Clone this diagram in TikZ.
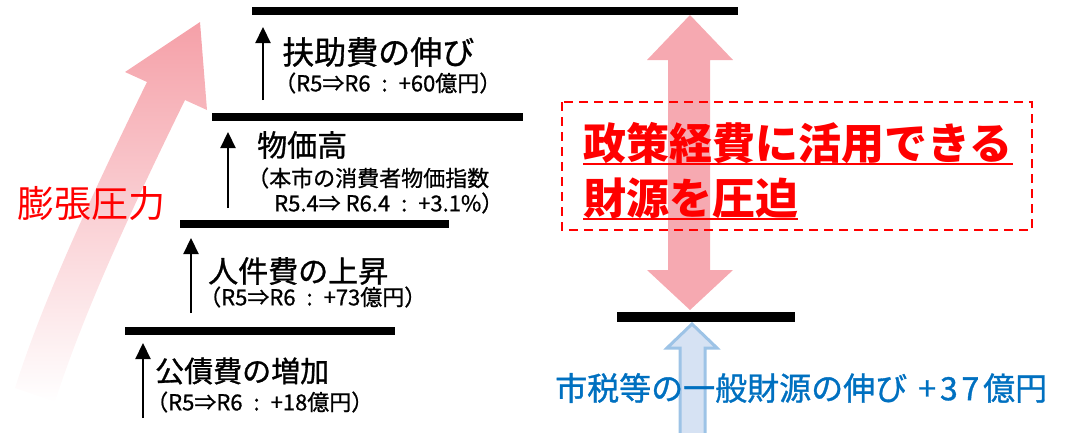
\documentclass[tikz,border=0pt]{standalone}
\usepackage{fontspec}
\setmainfont{Noto Sans CJK JP}
\usetikzlibrary{arrows.meta}
\definecolor{jred}{RGB}{255,0,0}
\definecolor{jblue}{RGB}{0,112,192}
\definecolor{apink}{RGB}{245,160,168}
\definecolor{bfill}{RGB}{214,226,243}
\definecolor{bline}{RGB}{157,195,230}
\newcommand{\cs}{\hspace{0.5em}:\hspace{0.5em}}
\begin{document}
\begin{tikzpicture}[x=1pt,y=-1pt,
  bar/.style={line width=8pt},
  uparrow/.style={line width=2.2pt,-{Triangle[length=16pt,width=15pt]}},
  lab/.style={anchor=west,inner sep=0pt},
  big/.style={lab,font=\fontsize{#1}{#1}\selectfont\addfontfeature{FakeBold=1}},
  sub/.style={lab,font=\fontsize{22}{26}\selectfont\addfontfeature{FakeBold=0.8}},
  uline/.style={jred,line width=2pt}]
\useasboundingbox (0,0) rectangle (1084,432);
% big expansion arrow (faded)
\shade[top color=apink, middle color=apink!60!white, bottom color=white]
  (15,388) .. controls (45,293) and (103,172) .. (147,82)
  -- (125,72) -- (200,22) -- (207,110) -- (185,100)
  .. controls (141,190) and (85,307) .. (55,402) -- cycle;
% pink double arrow
\fill[apink,opacity=0.9] (690,15) -- (733,60) -- (710,60) -- (710,270) -- (733,270)
  -- (690,310) -- (647,270) -- (668,270) -- (668,60) -- (647,60) -- cycle;
% blue arrow
\filldraw[fill=bfill,draw=bline,line width=3pt,line join=miter]
  (692,324) -- (717,348) -- (705,348) -- (705,440) -- (680,440) -- (680,348) -- (667,348) -- cycle;
% bars
\draw[bar] (252,11) -- (738,11);
\draw[bar] (212,117) -- (523,117);
\draw[bar] (180,224) -- (449,224);
\draw[bar] (125,331) -- (395,331);
\draw[line width=10pt] (617,317) -- (795,317);
% small arrows
\coordinate (a1s) at (263,100); \coordinate (a1e) at (263,27);
\coordinate (a2s) at (228,208); \coordinate (a2e) at (228,132);
\coordinate (a3s) at (191,313); \coordinate (a3e) at (191,238);
\coordinate (a4s) at (143,418); \coordinate (a4e) at (143,343);
\draw[uparrow] (a1s) -- (a1e);
\draw[uparrow] (a2s) -- (a2e);
\draw[uparrow] (a3s) -- (a3e);
\draw[uparrow] (a4s) -- (a4e);
% labels
\node[big=32] (l1) at (282,52) {扶助費の伸び};
\node[sub] (s1) at (274,83) {（R5⇒R6\cs+60億円）};
\node[big=30] (l2) at (257,145) {物価高};
\node[sub] (s2) at (247,178) {（本市の消費者物価指数};
\node[sub] (s2b) at (274,203) {R5.4⇒ R6.4\cs+3.1\%）};
\node[big=30] (l3) at (208,271) {人件費の上昇};
\node[sub] (s3) at (199,297) {（R5⇒R6\cs+73億円）};
\node[big=29] (l4) at (155,371) {公債費の増加};
\node[sub] (s4) at (146,402) {（R5⇒R6\cs+18億円）};
\node[font=\fontsize{37}{37}\selectfont,text=jred,inner sep=0pt] (bp) at (91,204) {膨張圧力};
% red message
\node[lab,font=\fontsize{43}{43}\selectfont\bfseries,text=jred] (r1) at (583,143) {政策経費に活用できる};
\node[lab,font=\fontsize{43}{43}\selectfont\bfseries,text=jred] (r2) at (583,198) {財源を圧迫};
\coordinate (u1) at (0,164); \coordinate (u2) at (0,219);
\draw[uline] (r1.west |- u1) -- (r1.east |- u1);
\draw[uline] (r2.west |- u2) -- (r2.east |- u2);
\draw[jred,line width=2.5pt,dash pattern=on 9pt off 6pt] (562,102) rectangle (1032,230);
% blue text
\node[big=32,text=jblue] (bt) at (555,388) {市税等の一般財源の伸び\hspace{0.35em}+\hspace{0.12em}3\hspace{0.12em}7\hspace{0.12em}億円};
\end{tikzpicture}
\end{document}
